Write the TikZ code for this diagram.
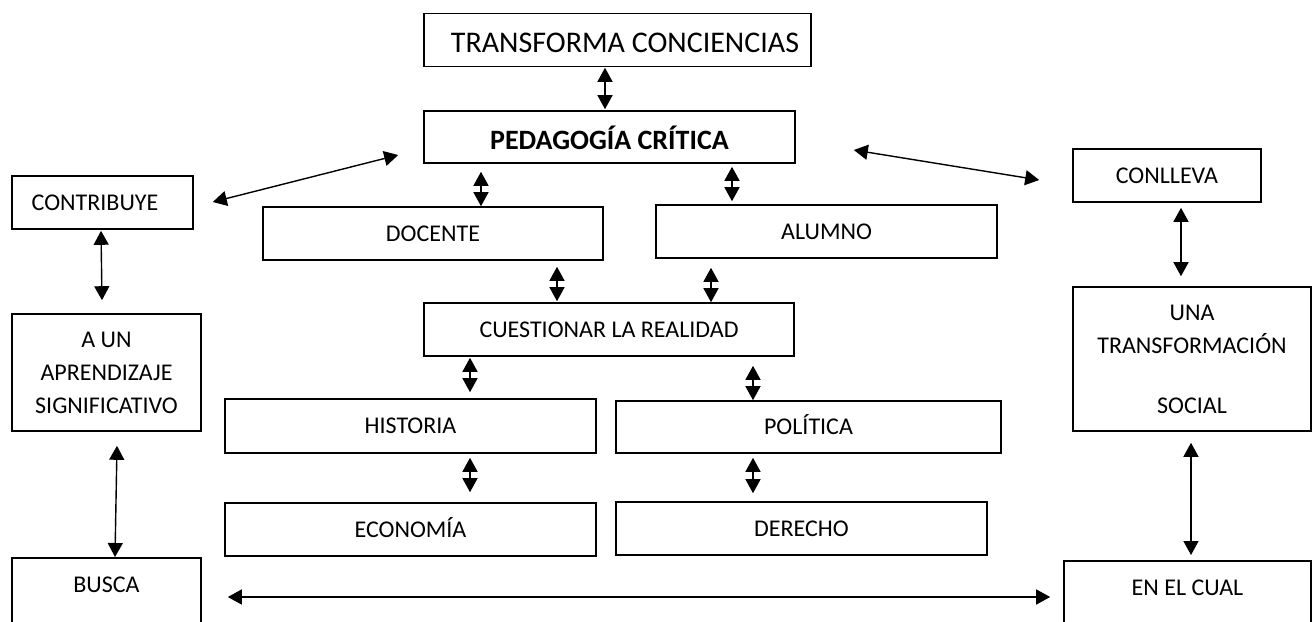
\documentclass[tikz,border=0pt]{standalone}
\usepackage{fontspec}
\setmainfont{Carlito}
\usetikzlibrary{arrows.meta}
\begin{document}
\begin{tikzpicture}[x=0.5pt,y=-0.5pt,
  box/.style={draw, line width=0.8pt, inner sep=0pt, align=center, font=\fontsize{12}{16.5}\selectfont},
  one/.style={text height=7.7pt, text depth=0pt},
  lbl/.style={inner sep=0pt, align=center, font=\fontsize{12}{16.5}\selectfont, text height=7.7pt, text depth=0pt},
  dbl/.style={line width=0.7pt, {Triangle[length=7pt,width=7.5pt]}-{Triangle[length=7pt,width=7.5pt]}}]
\useasboundingbox (0,0) rectangle (1314,622);
\fill[white] (0,0) rectangle (1314,622);
\clip (0,0) rectangle (1314,622);

% boxes
\node[box, minimum width=193.5pt, minimum height=26.5pt, font=\fontsize{15}{18}\selectfont, text height=12.7pt, text depth=0pt] (trans) at (617.5,40) {\hspace*{7.5pt}TRANSFORMA CONCIENCIAS};
\node[box, minimum width=185.5pt, minimum height=26pt, font=\fontsize{14}{17}\selectfont\bfseries, text height=12pt, text depth=0pt] (ped) at (609.5,137) {PEDAGOGÍA CRÍTICA};
\node[box, one, minimum width=90.5pt, minimum height=26.5pt] (contr) at (102.5,202.5) {CONTRIBUYE\hspace*{7.5pt}};
\node[box, one, minimum width=170pt, minimum height=26.5pt] (doc) at (433,233.5) {DOCENTE};
\node[box, one, minimum width=170.5pt, minimum height=26.5pt] (alu) at (826.5,231.5) {ALUMNO};
\node[box, one, minimum width=94pt, minimum height=26.5pt] (conl) at (1167,175.5) {CONLLEVA};
\node[box, one, minimum width=185pt, minimum height=26.5pt] (cues) at (609,329.5) {CUESTIONAR LA REALIDAD};
\node[box, minimum width=94.5pt, minimum height=58.5pt] (aun) at (106.5,372.5) {A UN\\APRENDIZAJE\\SIGNIFICATIVO};
\node[box, minimum width=119pt, minimum height=72pt] (una) at (1192,359) {UNA\\TRANSFORMACIÓN\\[13.5pt]SOCIAL};
\node[box, one, minimum width=185.5pt, minimum height=27pt] (hist) at (410.5,426) {HISTORIA};
\node[box, one, minimum width=192.5pt, minimum height=26pt] (pol) at (808.5,427) {POLÍTICA};
\node[box, one, minimum width=185.5pt, minimum height=26.5pt] (eco) at (410.5,529.5) {ECONOMÍA};
\node[box, one, minimum width=185.5pt, minimum height=26.5pt] (der) at (801.5,528.5) {DERECHO};
\node[box, anchor=north, minimum width=94.5pt, minimum height=60pt] (busca) at (106.5,557) {};
\node[box, anchor=north, minimum width=123.5pt, minimum height=60pt] (encual) at (1187.5,560) {};
\node[lbl] (buscat) at ([shift={(0,28)}]busca.north) {BUSCA};
\node[lbl] (encualt) at ([shift={(0,28)}]encual.north) {EN EL CUAL};

% connectors
\draw[dbl] ([shift={(-12.5,0.5)}]trans.south) -- ([shift={(-4.5,-1)}]ped.north);
\draw[dbl] ([shift={(-25,18)}]ped.west) -- ([shift={(19,-0.5)}]contr.east);
\draw[dbl] ([shift={(58,13)}]ped.east) -- ([shift={(-33,4.5)}]conl.west);
\draw[dbl] ([shift={(-128.5,8)}]ped.south) -- ([shift={(48,0)}]doc.north);
\draw[dbl] ([shift={(122.5,3)}]ped.south) -- ([shift={(-94.5,-3)}]alu.north);
\draw[dbl] ([shift={(-1.5,1)}]contr.south) -- ([shift={(-4.5,-13)}]aun.north);
\draw[dbl] ([shift={(124,6)}]doc.south) -- ([shift={(-52,-1)}]cues.north);
\draw[dbl] ([shift={(-115.5,9)}]alu.south) -- ([shift={(102,0)}]cues.north);
\draw[dbl] ([shift={(14,5)}]conl.south) -- ([shift={(-11,-10)}]una.north);
\draw[dbl] ([shift={(-139,1)}]cues.south) -- ([shift={(59.5,-6)}]hist.north);
\draw[dbl] ([shift={(144,9)}]cues.south) -- ([shift={(-55.5,0)}]pol.north);
\draw[dbl] ([shift={(59.5,4)}]hist.south) -- ([shift={(59.5,-10)}]eco.north);
\draw[dbl] ([shift={(-55.5,4)}]pol.south) -- ([shift={(-48.5,-8)}]der.north);
\draw[dbl] ([shift={(10.5,14)}]aun.south) -- ([shift={(8.5,0)}]busca.north);
\draw[dbl] ([shift={(-1,11)}]una.south) -- ([shift={(3.5,-5)}]encual.north);
\draw[dbl] ([shift={(26,40)}]busca.north east) -- ([shift={(-13,37)}]encual.north west);
\end{tikzpicture}
\end{document}
